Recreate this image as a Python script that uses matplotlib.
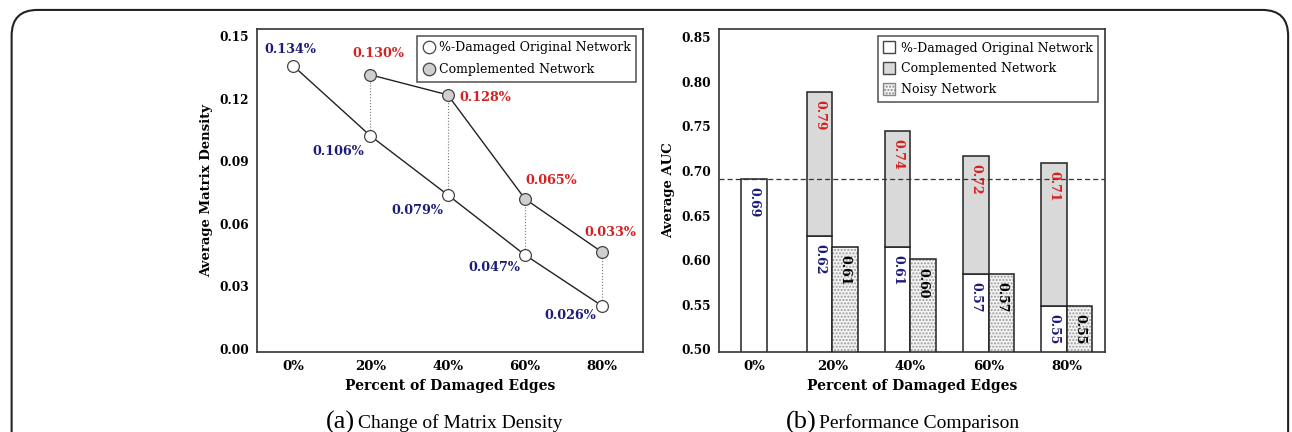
import matplotlib
matplotlib.use('Agg')
import matplotlib.pyplot as plt
from matplotlib.patches import FancyBboxPatch, Patch
from matplotlib.lines import Line2D
import numpy as np

# ── Data ──────────────────────────────────────────────────────
damage = ['0%', '20%', '40%', '60%', '80%']

# (a) matrix density
dens_orig = [0.1358, 0.1022, 0.0739, 0.0451, 0.0206]
dens_comp = [0.1315, 0.1219, 0.0720, 0.0464]          # 20%..80%
lab_orig = ['0.134%', '0.106%', '0.079%', '0.047%', '0.026%']
lab_comp = ['0.130%', '0.128%', '0.065%', '0.033%']

# (b) AUC
auc_orig = [0.691, 0.627, 0.615, 0.585, 0.549]
auc_comp = [0.789, 0.745, 0.717, 0.709]                # 20%..80%
auc_noisy = [0.615, 0.601, 0.585, 0.549]               # 20%..80%
auc_orig_txt = ['0.69', '0.62', '0.61', '0.57', '0.55']
auc_comp_txt = ['0.79', '0.74', '0.72', '0.71']
auc_noisy_txt = ['0.61', '0.60', '0.57', '0.55']
baseline = 0.691

NAVY, RED = '#1c1c78', '#d42020'
GREYFILL = '#d9d9d9'
plt.rcParams['font.family'] = 'DejaVu Serif'

fig = plt.figure(figsize=(12.92, 4.32), dpi=100)

# rounded frame around the whole figure
frame = FancyBboxPatch((0.009, -0.2), 0.988, 1.177, boxstyle='round,pad=0,rounding_size=0.02',
                       transform=fig.transFigure, fill=False, edgecolor='#222222', lw=1.5,
                       mutation_aspect=1292 / 432)
fig.patches.append(frame)

def style(ax):
    for sp in ax.spines.values():
        sp.set_color('#333333'); sp.set_linewidth(1.2)
    ax.tick_params(length=0, pad=6)
    ax.tick_params(axis='x', labelsize=9.5)
    ax.tick_params(axis='y', labelsize=8.7)
    for t in ax.get_xticklabels() + ax.get_yticklabels():
        t.set_fontweight('bold')

# ── (a) Change of Matrix Density ──────────────────────────────
ax = fig.add_axes([0.1989, 0.1852, 0.2988, 0.7477])
x = np.arange(len(damage))
xc = x[1:]
for xi, a, b in zip(xc, dens_orig[1:], dens_comp):
    ax.plot([xi, xi], [a, b], color='#777777', lw=0.8, ls=':', zorder=1)
ax.plot(x, dens_orig, color='#222222', lw=1.0, marker='o', ms=8.5,
        mfc='white', mec='#444444', mew=0.9, zorder=3)
ax.plot(xc, dens_comp, color='#222222', lw=1.0, marker='o', ms=8.5,
        mfc='#cfcfcf', mec='#444444', mew=0.9, zorder=3)

off_orig = [(-2, 12), (-23, -11), (-22, -11), (-22, -9), (-23, -7)]
off_comp = [(6, 15), (27, -2), (19, 13), (6, 14)]
for xi, y, t, o in zip(x, dens_orig, lab_orig, off_orig):
    ax.annotate(t, (xi, y), xytext=o, textcoords='offset points', ha='center', va='center',
                color=NAVY, fontsize=9.2, fontweight='bold')
for xi, y, t, o in zip(xc, dens_comp, lab_comp, off_comp):
    ax.annotate(t, (xi, y), xytext=o, textcoords='offset points', ha='center', va='center',
                color=RED, fontsize=9.2, fontweight='bold')

ax.set_xlim(-0.47, 4.53)
ax.set_ylim(-0.0015, 0.1535)
ax.set_xticks(x); ax.set_xticklabels(damage)
ax.set_yticks([0, 0.03, 0.06, 0.09, 0.12, 0.15])
ax.set_yticklabels(['0.00', '0.03', '0.06', '0.09', '0.12', '0.15'])
ax.set_xlabel('Percent of Damaged Edges', fontsize=10, fontweight='bold', labelpad=4)
ax.set_ylabel('Average Matrix Density', fontsize=9.5, fontweight='bold', labelpad=4)
style(ax)
h = [Line2D([0], [0], marker='o', ls='none', ms=9, mfc='white', mec='#444444', mew=0.9),
     Line2D([0], [0], marker='o', ls='none', ms=9, mfc='#cfcfcf', mec='#444444', mew=0.9)]
leg = ax.legend(h, ['%-Damaged Original Network', 'Complemented Network'], loc='upper right',
                fontsize=9, frameon=True, fancybox=False, edgecolor='#333333',
                handletextpad=0.3, borderpad=0.45, labelspacing=0.7, handlelength=1.0,
                borderaxespad=0.55)
leg.get_frame().set_linewidth(1.2)

# ── (b) Performance Comparison ────────────────────────────────
bx = fig.add_axes([0.5565, 0.1852, 0.2988, 0.7477])
w = 0.327
pos_o = np.array([0.0] + [xi - w / 2 for xi in xc])
pos_n = xc + w / 2
bx.bar(pos_o, auc_orig, w, color='white', edgecolor='#222222', lw=1.1, zorder=2)
bx.bar(pos_o[1:], np.array(auc_comp) - np.array(auc_orig[1:]), w, bottom=auc_orig[1:],
       color=GREYFILL, edgecolor='#222222', lw=1.1, zorder=2)
bx.bar(pos_n, auc_noisy, w, color='#f4f4f4', edgecolor='#9a9a9a', hatch='.....', lw=0, zorder=2)
bx.bar(pos_n, auc_noisy, w, fill=False, edgecolor='#222222', lw=1.1, zorder=3)
bx.axhline(baseline, color='#333333', lw=0.9, ls=(0, (4, 2.5)), zorder=4)

def vlabel(xp, top, txt, col):
    bx.annotate(txt, (xp, top), xytext=(0, -6), textcoords='offset points', rotation=-90,
                ha='center', va='top', color=col, fontsize=9, fontweight='bold', zorder=5)

for xp, v, t in zip(pos_o, auc_orig, auc_orig_txt):
    vlabel(xp, v, t, NAVY)
for xp, v, t in zip(pos_o[1:], auc_comp, auc_comp_txt):
    vlabel(xp, v, t, RED)
for xp, v, t in zip(pos_n, auc_noisy, auc_noisy_txt):
    vlabel(xp, v, t, 'black')

bx.set_xlim(-0.45, 4.49)
bx.set_ylim(0.497, 0.8593)
bx.set_xticks(x); bx.set_xticklabels(damage)
bx.set_yticks(np.arange(0.50, 0.851, 0.05))
bx.set_yticklabels(['0.50', '0.55', '0.60', '0.65', '0.70', '0.75', '0.80', '0.85'])
bx.set_xlabel('Percent of Damaged Edges', fontsize=10, fontweight='bold', labelpad=4)
bx.set_ylabel('Average AUC', fontsize=9.5, fontweight='bold', labelpad=4)
style(bx)
ph = [Patch(facecolor='white', edgecolor='#444444'),
      Patch(facecolor=GREYFILL, edgecolor='#444444'),
      Patch(facecolor='#f4f4f4', edgecolor='#888888', hatch='.....')]
leg2 = bx.legend(ph, ['%-Damaged Original Network', 'Complemented Network', 'Noisy Network'],
                 loc='upper right', fontsize=9, frameon=True, fancybox=False,
                 edgecolor='#333333', handletextpad=0.45, borderpad=0.45, labelspacing=0.62,
                 handlelength=0.95, handleheight=1.05, borderaxespad=0.55)
leg2.get_frame().set_linewidth(1.2)

# ── captions ──────────────────────────────────────────────────
for cx, big, rest in [(0.2523, '(a)', 'Change of Matrix Density'),
                      (0.6084, '(b)', 'Performance Comparison')]:
    t = fig.text(cx, 0.009, big, fontsize=19, family='Liberation Serif', va='baseline')
    fig.canvas.draw()
    bb = t.get_window_extent()
    fig.text(bb.x1 / fig.bbox.width + 0.002, 0.009, rest, fontsize=14,
             family='Liberation Serif', va='baseline')

fig.savefig('out.png', dpi=100)
